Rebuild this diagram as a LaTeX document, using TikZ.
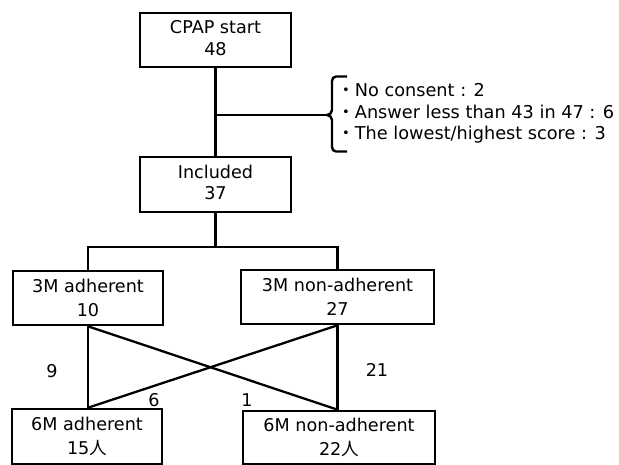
\documentclass[tikz,border=0pt]{standalone}
\usepackage{fontspec}
\setmainfont{DejaVu Sans}
\newfontfamily\jp{Noto Sans CJK JP}
\begin{document}
\begin{tikzpicture}[x=1pt,y=-1pt,
  box/.style={draw=black,line width=2.6pt,rectangle,inner sep=0pt,align=center,
    font=\fontsize{17.6}{24}\selectfont},
  boxtop/.style={box,font=\fontsize{17.6}{21.5}\selectfont},
  conn/.style={draw=black,line width=2.3pt},
  lbl/.style={inner sep=0pt,font=\fontsize{17.6}{20}\selectfont}]
\useasboundingbox (0,0) rectangle (619,464);
\fill[white] (0,0) rectangle (619,464);
% boxes
\node[boxtop,minimum width=151pt,minimum height=54pt] (cpap) at (215.5,40) {CPAP start\\48\rule[-4pt]{0pt}{0pt}};
\node[boxtop,minimum width=151pt,minimum height=55pt] (inc) at (215.5,184.5) {Included\\37\rule[-4pt]{0pt}{0pt}};
\node[box,minimum width=150pt,minimum height=54pt] (a3) at (88,298) {3M adherent\\10};
\node[box,minimum width=193pt,minimum height=54pt] (n3) at (337.5,297) {3M non-adherent\\27};
\node[box,minimum width=150pt,minimum height=55.3pt] (a6) at (87,436.65) {6M adherent\\15{\jp 人}};
\node[box,minimum width=192pt,minimum height=53.3pt] (n6) at (339,437.65) {6M non-adherent\\22{\jp 人}};
% top connectors
\coordinate (br) at (215.5,115);
\coordinate (tip) at (327,115);
\draw[conn] (cpap.south) -- (inc.north);
\draw[conn] (br) -- (tip);
% bracket
\draw[line width=2.4pt,line join=round] (347,76.5) -- (336,76.5) to[out=180,in=90] (332,81)
  -- (332,110) to[out=-90,in=0] (tip) to[out=0,in=90] (332,120)
  -- (332,147) to[out=-90,in=180] (336,151.5) -- (347,151.5);
\node[anchor=west,inner sep=0pt,align=left,font=\fontsize{17.7}{21.5}\selectfont] (excl) at (337,113.5)
  {{\jp ・}No consent : 2\\{\jp ・}Answer less than 43 in 47 : 6\\{\jp ・}The lowest/highest score : 3};
% split
\coordinate (split) at (215.5,247);
\draw[conn] (inc.south) -- (split);
\draw[conn] (a3.north) |- (split) -| (n3.north);
% lower connectors
\draw[conn] (a3.south) -- (a3.south |- a6.north);
\draw[conn] (n3.south) -- (n3.south |- n6.north);
\draw[conn] (a3.south) -- (n3.south |- n6.north);
\draw[conn] (n3.south) -- (a3.south |- a6.north);
% labels
\node[lbl] (l9) at (52,371) {9};
\node[lbl] (l6) at (154,400) {6};
\node[lbl] (l1) at (247,400) {1};
\node[lbl] (l21) at (377,370) {21};
\end{tikzpicture}
\end{document}
